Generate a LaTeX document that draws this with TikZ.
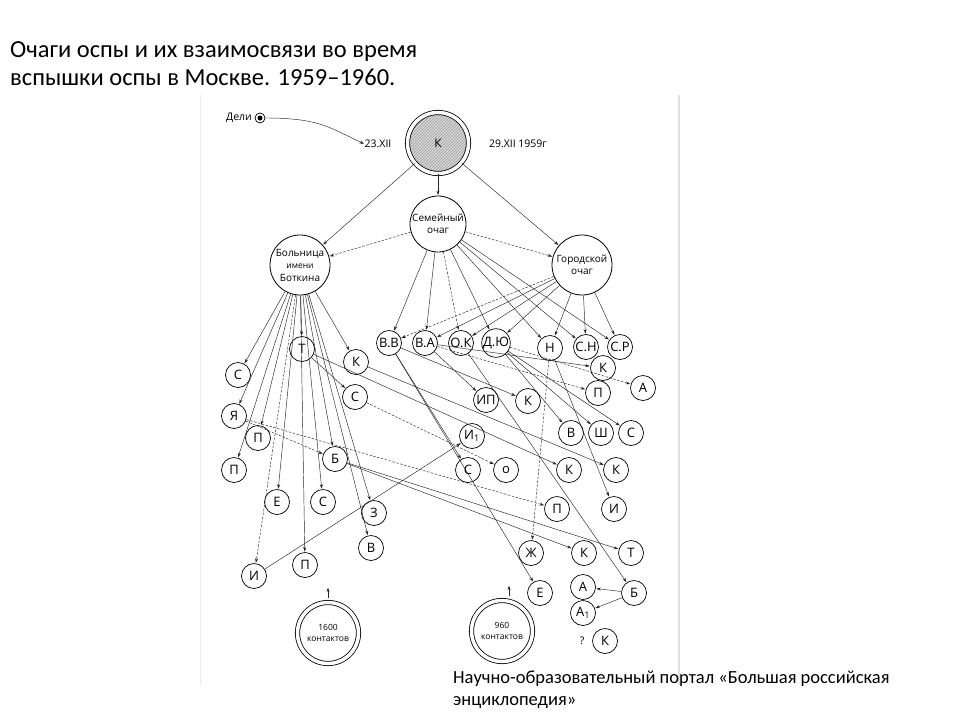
\documentclass[tikz,border=0pt]{standalone}
\usepackage{fontspec}
\setmainfont{Carlito}
\newfontfamily\dfont{Open Sans}
\usetikzlibrary{arrows.meta,patterns,calc}
\begin{document}
\begin{tikzpicture}[x=1pt,y=-1pt,
  ed/.style={draw=black!85,line width=0.45pt,-{Stealth[length=4.5pt,width=3pt]},shorten >=0.5pt},
  ded/.style={ed,dash pattern=on 2.5pt off 1.5pt},
  sm/.style={circle,draw,line width=0.7pt,minimum size=25pt,inner sep=0pt,font=\dfont\fontsize{13}{13}\selectfont},
  big/.style={circle,draw,line width=0.8pt,minimum size=58pt,inner sep=0pt,align=center,font=\dfont\fontsize{10}{12.5}\selectfont},
  cont/.style={circle,draw,line width=0.8pt,double,double distance=3.5pt,minimum size=61pt,inner sep=0pt,align=center,font=\dfont\fontsize{8.5}{10.5}\selectfont},
  lab/.style={font=\dfont\fontsize{10.5}{12}\selectfont,inner sep=0pt}
]
\useasboundingbox (0,0) rectangle (960,720);
\fill[white] (0,0) rectangle (960,720);
% scan borders
\draw[black!8,line width=1pt] (200,95) -- (200,685);
\draw[black!12,line width=2pt] (679,95) -- (679,685);
% title and caption
\node[anchor=base west,align=left,inner sep=0pt,font=\fontsize{24.5}{28}\selectfont] (title) at (10,85)
  {Очаги оспы и их взаимосвязи во время\\вспышки оспы в Москве. 1959–1960.};
\node[anchor=base west,align=left,inner sep=0pt,font=\fontsize{18.5}{22}\selectfont] (cap) at (453,705)
  {Научно-образовательный портал «Большая российская\\энциклопедия»};
% top
\node[lab,anchor=east] (delit) at (252,118) {Дели};
\node[circle,draw,line width=0.7pt,minimum size=10pt,inner sep=0pt] (deli) at (260,118) {};
\fill (deli.center) circle (2.5);
\node[circle,draw,line width=0.8pt,double,double distance=3.5pt,minimum size=61pt,inner sep=0pt,
  preaction={fill=black!15},pattern=north east lines,pattern color=black!40,font=\dfont\fontsize{12}{12}\selectfont] (kt) at (438,143) {К};
\node[lab] (d23) at (378,144) {23.XII};
\node[lab] (d29) at (518,144) {29.XII 1959г};
\draw[ed] (deli.east) .. controls (320,118) and (330,128) .. (d23.west);
\node[big,minimum size=56pt] (sem) at (438,224) {Семейный\\очаг};
\node[big,minimum size=60pt] (bol) at (300,265) {Больница\\{\fontsize{8.5}{10}\selectfont имени}\\Боткина};
\node[big,minimum size=60pt] (gor) at (582,265) {Городской\\очаг};
% left nodes
\node[sm] (bT) at (302,349) {Т};
\node[sm] (bK) at (356,362) {К};
\node[sm] (bC1) at (238,375) {С};
\node[sm] (bC2) at (355,397) {С};
\node[sm] (bYa) at (234,416) {Я};
\node[sm] (bP1) at (258,438) {П};
\node[sm] (bB) at (335,459) {Б};
\node[sm] (bP2) at (234,470) {П};
\node[sm] (bE) at (277,502) {Е};
\node[sm] (bC3) at (323,502) {С};
\node[sm] (bZ) at (374,513) {З};
\node[sm] (bV) at (371,548) {В};
\node[sm] (bI) at (254,576) {И};
\node[sm] (bP3) at (305,565) {П};
\node[cont] (c1600) at (328,633) {1600\\контактов};
% right nodes
\node[sm] (vv) at (389,343) {В.В};
\node[sm] (va) at (425,343) {В.А};
\node[sm] (ok) at (461,343) {О.К};
\node[sm] (du) at (496,343) {Д.Ю};
\node[sm] (nn) at (550,348) {Н};
\node[sm] (sn) at (586,347) {С.Н};
\node[sm] (sr) at (620,347) {С.Р};
\node[sm] (rK1) at (603,368) {К};
\node[sm] (rA) at (643,388) {А};
\node[sm] (rP1) at (598,393) {П};
\node[sm] (ip) at (486,400) {ИП};
\node[sm] (rK2) at (528,401) {К};
\node[sm] (rV) at (571,433) {В};
\node[sm] (rSh) at (601,433) {Ш};
\node[sm] (rC1) at (631,433) {С};
\node[sm] (i1) at (472,436) {И\textsubscript{1}};
\node[sm] (rC2) at (468,470) {С};
\node[sm] (rO) at (506,470) {о};
\node[sm] (rK3) at (569,470) {К};
\node[sm] (rK4) at (616,470) {К};
\node[sm] (rP2) at (557,509) {П};
\node[sm] (rI) at (614,509) {И};
\node[sm] (rZh) at (531,553) {Ж};
\node[sm] (rK5) at (584,553) {К};
\node[sm] (rT) at (631,553) {Т};
\node[sm] (rE) at (540,593) {Е};
\node[sm] (rA2) at (583,587) {А};
\node[sm] (rB) at (634,593) {Б};
\node[sm] (rA1) at (583,613) {А\textsubscript{1}};
\node[sm] (rK6) at (605,641) {К};
\node[lab] (q) at (582,641) {?};
\node[cont] (c960) at (502,631) {960\\контактов};
% contact arrows
\coordinate (u1) at ($(c1600.north)+(0,-4)$);
\coordinate (u2) at ($(c960.north)+(7,-4)$);
\draw[ed] (u1) -- ++(0,-11);
\draw[ed] (u2) -- ++(0,-11);
% top edges
\draw[ed] (kt) -- (sem);
\draw[ed] (kt) -- (bol);
\draw[ed] (kt) -- (gor);
\draw[ded] (sem) -- (bol);
\draw[ded] (sem) -- (gor);
% family focus
\foreach \t in {vv,va,du,nn,sn,sr} \draw[ed] (sem) -- (\t);
\draw[ded] (sem) -- (ok);
% city focus
\draw[ded] (gor) -- (vv);
\foreach \t in {va,ok,du,nn,sn,sr} \draw[ed] (gor) -- (\t);
% hospital
\foreach \t in {bC1,bYa,bP1,bP2,bE,bP3,bT,bC3,bB,bZ,bV,bK} \draw[ed] (bol) -- (\t);
\draw[ded] (bol) -- (bI);
\draw[ed] (bT) -- (bC2);
\draw[ed] (bT) -- (rK3);
\draw[ed] (bK) -- (rK4);
\draw[ded] (bC2) -- (rO);
\draw[ded] (bYa) -- (bB);
\draw[ded] (bYa) -- (rP2);
\draw[ed] (bB) -- (rK5);
\draw[ed] (bB) -- (rT);
\draw[ed] (bI) -- (i1);
% right cross edges
\draw[ed] (vv) -- (rC2);
\draw[ed] (vv) -- (rE);
\draw[ed] (vv) -- (rK2);
\draw[ed] (va) -- (ip);
\draw[ed] (va) -- (rK1);
\draw[ded] (va) -- (rP1);
\draw[ded] (du) -- (rA);
\draw[ed] (du) -- (rV);
\draw[ed] (du) -- (rSh);
\draw[ed] (du) -- (rC1);
\draw[ed] (ok) -- (rB);
\draw[ded] (nn) -- (rZh);
\draw[ed] (nn) -- (rI);
\draw[ed] (rB) -- (rA2);
\draw[ed] (rB) -- (rA1);
\end{tikzpicture}
\end{document}
